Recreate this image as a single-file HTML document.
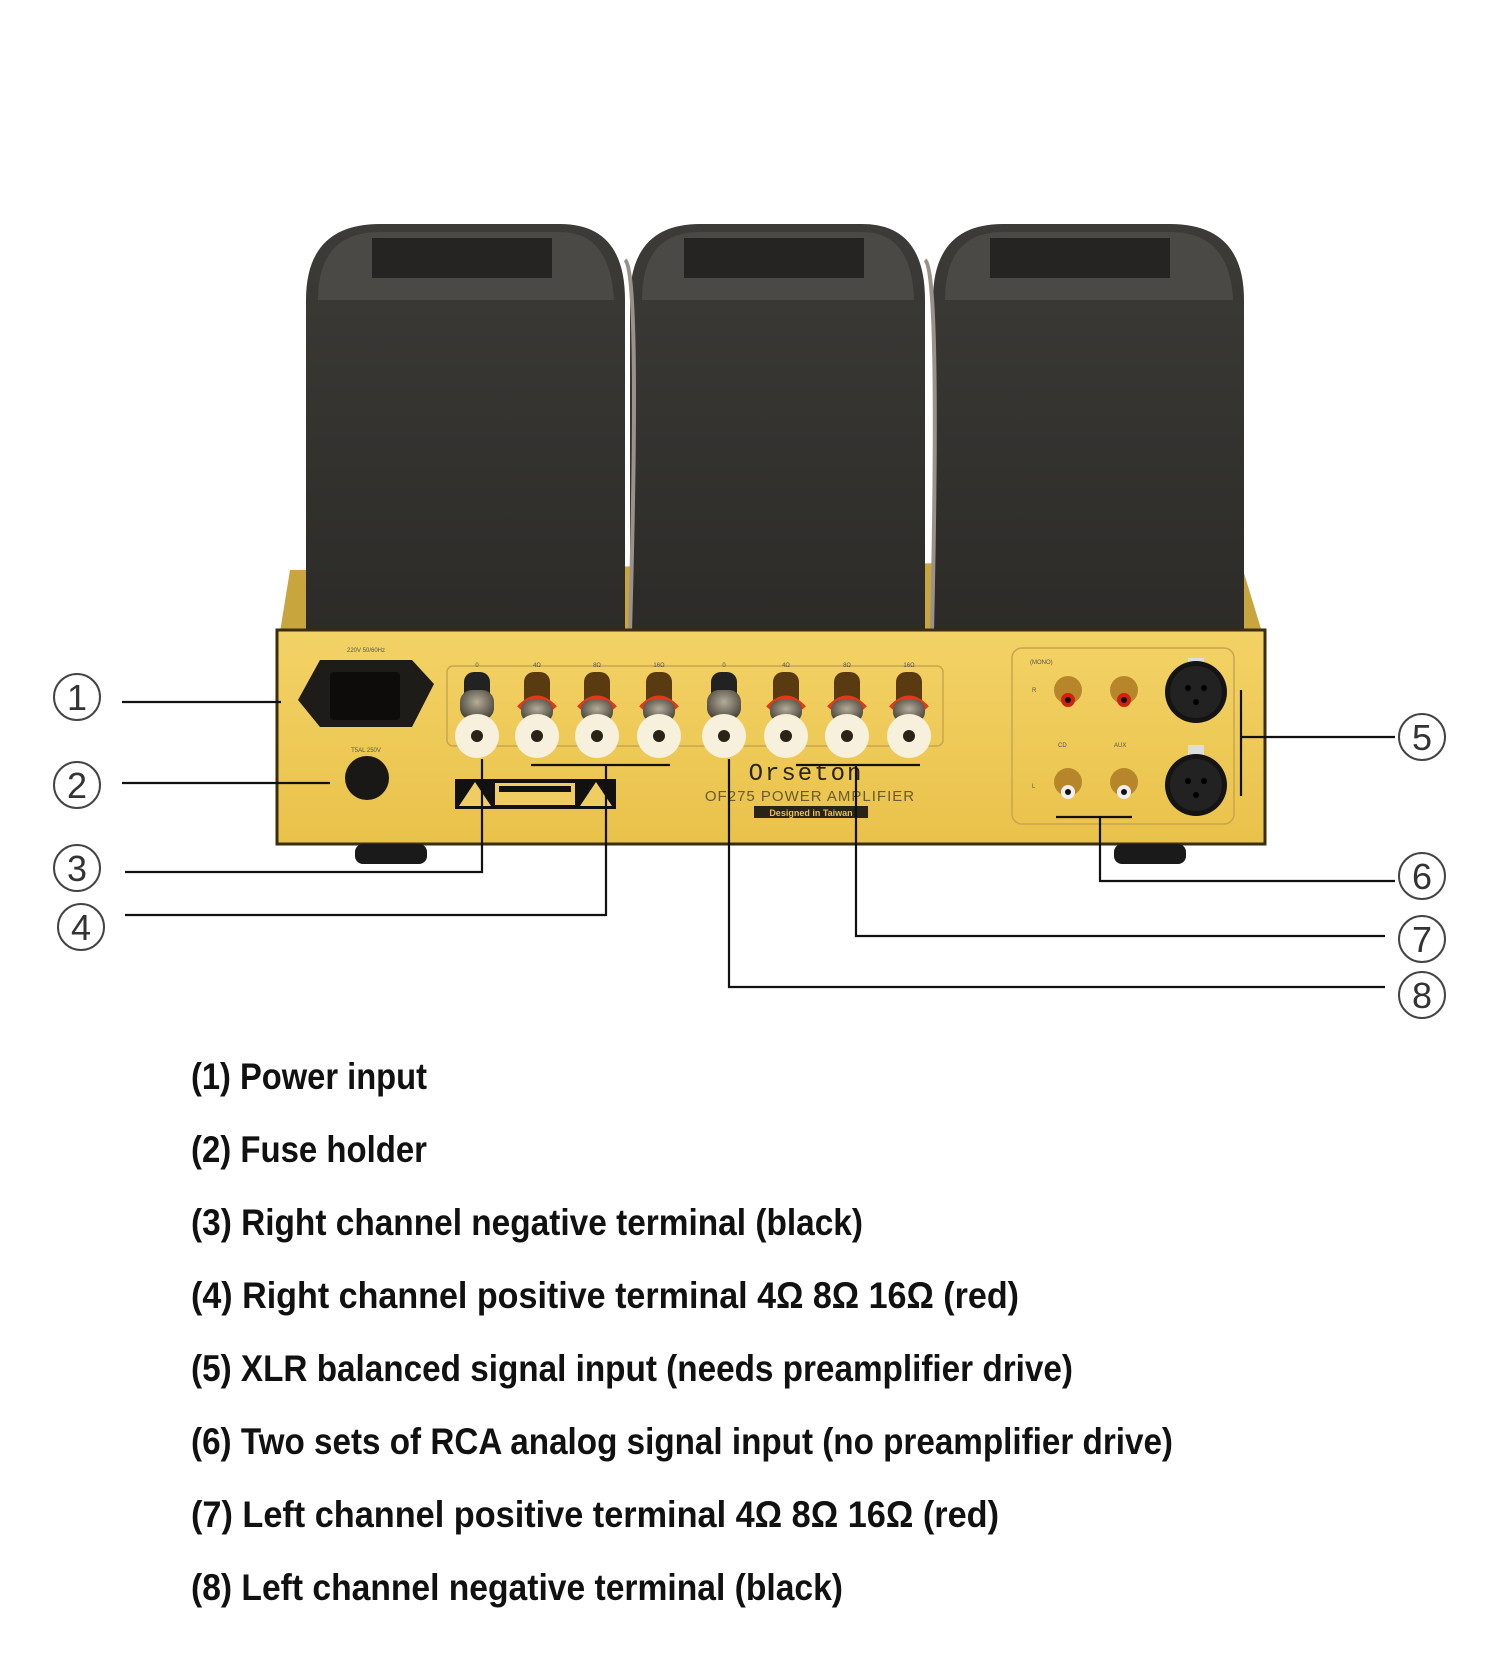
<!DOCTYPE html>
<html><head><meta charset="utf-8"><style>
html,body{margin:0;padding:0;background:#fff;}
svg{display:block;}
</style></head><body>
<svg width="1500" height="1662" viewBox="0 0 1500 1662" xmlns="http://www.w3.org/2000/svg">
<defs>
<linearGradient id="gold" x1="0" y1="0" x2="0" y2="1">
<stop offset="0" stop-color="#f3d266"/><stop offset="1" stop-color="#e9c24a"/>
</linearGradient>
<linearGradient id="tf" x1="0" y1="0" x2="0" y2="1">
<stop offset="0" stop-color="#3c3b38"/><stop offset="1" stop-color="#2c2b28"/>
</linearGradient>
<radialGradient id="post" cx="0.5" cy="0.4" r="0.6">
<stop offset="0" stop-color="#b5ad9a"/><stop offset="1" stop-color="#4a463c"/>
</radialGradient>
</defs>
<rect width="1500" height="1662" fill="#fff"/>

<!-- chassis top visible -->
<polygon points="290,570 1240,560 1262,632 280,632" fill="#c9a53e"/>
<!-- transformers -->
<g>
<path d="M306,632 V300 Q306,224 380,224 H560 Q625,224 625,300 V632 Z" fill="url(#tf)"/>
<path d="M630,632 V300 Q630,224 700,224 H862 Q925,224 925,300 V632 Z" fill="url(#tf)"/>
<path d="M933,632 V300 Q933,224 1003,224 H1170 Q1244,224 1244,300 V632 Z" fill="url(#tf)"/>
<path d="M318,300 Q318,232 380,232 H560 Q610,232 614,300 Z" fill="#4a4946"/>
<path d="M642,300 Q642,232 700,232 H862 Q912,232 914,300 Z" fill="#4a4946"/>
<path d="M945,300 Q945,232 1003,232 H1170 Q1230,232 1233,300 Z" fill="#4a4946"/>
<rect x="372" y="238" width="180" height="40" fill="#252422"/>
<rect x="684" y="238" width="180" height="40" fill="#252422"/>
<rect x="990" y="238" width="180" height="40" fill="#252422"/>
<path d="M625,260 Q640,270 630,632" stroke="#9a928a" stroke-width="4" fill="none"/>
<path d="M925,260 Q940,270 932,632" stroke="#9a928a" stroke-width="4" fill="none"/>
</g>
<!-- chassis front -->
<rect x="277" y="630" width="988" height="214" fill="url(#gold)" stroke="#3a2e10" stroke-width="3"/>
<!-- feet -->
<rect x="355" y="844" width="72" height="20" rx="8" fill="#1a1a1a"/>
<rect x="1114" y="844" width="72" height="20" rx="8" fill="#1a1a1a"/>

<!-- IEC inlet -->
<text x="366" y="652" font-family="Liberation Sans" font-size="6" fill="#555" text-anchor="middle">220V 50/60Hz</text>
<path d="M320,660 H412 L434,684 L412,727 H320 L298,700 Z" fill="#1e1c18"/>
<rect x="330" y="672" width="70" height="48" rx="4" fill="#0d0c0a"/>
<text x="366" y="752" font-family="Liberation Sans" font-size="6" fill="#555" text-anchor="middle">T5AL 250V</text>
<circle cx="367" cy="778" r="22" fill="#1a1816"/>
<!-- terminal box -->
<rect x="447" y="666" width="496" height="80" rx="6" fill="none" stroke="#c8a650" stroke-width="1.5"/>
<g font-family="Liberation Sans" font-size="6" fill="#555" text-anchor="middle">
<text x="477" y="667">0</text><text x="537" y="667">4Ω</text><text x="597" y="667">8Ω</text><text x="659" y="667">16Ω</text>
<text x="724" y="667">0</text><text x="786" y="667">4Ω</text><text x="847" y="667">8Ω</text><text x="909" y="667">16Ω</text>
</g>
<g>
<g transform="translate(477,0)"><rect x="-13" y="672" width="26" height="40" rx="10" fill="#222"/><rect x="-17" y="690" width="34" height="30" rx="12" fill="url(#post)"/><circle cx="0" cy="736" r="22" fill="#f7f0dc"/><circle cx="0" cy="736" r="6" fill="#2a2418"/></g>
<g transform="translate(537,0)"><rect x="-13" y="672" width="26" height="40" rx="10" fill="#5a3a10"/><path d="M-18,708 Q0,688 18,708" stroke="#e03a1a" stroke-width="5" fill="none"/><rect x="-16" y="700" width="32" height="22" rx="10" fill="url(#post)"/><circle cx="0" cy="736" r="22" fill="#f7f0dc"/><circle cx="0" cy="736" r="6" fill="#2a2418"/></g>
<g transform="translate(597,0)"><rect x="-13" y="672" width="26" height="40" rx="10" fill="#5a3a10"/><path d="M-18,708 Q0,688 18,708" stroke="#e03a1a" stroke-width="5" fill="none"/><rect x="-16" y="700" width="32" height="22" rx="10" fill="url(#post)"/><circle cx="0" cy="736" r="22" fill="#f7f0dc"/><circle cx="0" cy="736" r="6" fill="#2a2418"/></g>
<g transform="translate(659,0)"><rect x="-13" y="672" width="26" height="40" rx="10" fill="#5a3a10"/><path d="M-18,708 Q0,688 18,708" stroke="#e03a1a" stroke-width="5" fill="none"/><rect x="-16" y="700" width="32" height="22" rx="10" fill="url(#post)"/><circle cx="0" cy="736" r="22" fill="#f7f0dc"/><circle cx="0" cy="736" r="6" fill="#2a2418"/></g>
<g transform="translate(724,0)"><rect x="-13" y="672" width="26" height="40" rx="10" fill="#222"/><rect x="-17" y="690" width="34" height="30" rx="12" fill="url(#post)"/><circle cx="0" cy="736" r="22" fill="#f7f0dc"/><circle cx="0" cy="736" r="6" fill="#2a2418"/></g>
<g transform="translate(786,0)"><rect x="-13" y="672" width="26" height="40" rx="10" fill="#5a3a10"/><path d="M-18,708 Q0,688 18,708" stroke="#e03a1a" stroke-width="5" fill="none"/><rect x="-16" y="700" width="32" height="22" rx="10" fill="url(#post)"/><circle cx="0" cy="736" r="22" fill="#f7f0dc"/><circle cx="0" cy="736" r="6" fill="#2a2418"/></g>
<g transform="translate(847,0)"><rect x="-13" y="672" width="26" height="40" rx="10" fill="#5a3a10"/><path d="M-18,708 Q0,688 18,708" stroke="#e03a1a" stroke-width="5" fill="none"/><rect x="-16" y="700" width="32" height="22" rx="10" fill="url(#post)"/><circle cx="0" cy="736" r="22" fill="#f7f0dc"/><circle cx="0" cy="736" r="6" fill="#2a2418"/></g>
<g transform="translate(909,0)"><rect x="-13" y="672" width="26" height="40" rx="10" fill="#5a3a10"/><path d="M-18,708 Q0,688 18,708" stroke="#e03a1a" stroke-width="5" fill="none"/><rect x="-16" y="700" width="32" height="22" rx="10" fill="url(#post)"/><circle cx="0" cy="736" r="22" fill="#f7f0dc"/><circle cx="0" cy="736" r="6" fill="#2a2418"/></g>
</g>
<!-- warning label -->
<rect x="455" y="779" width="161" height="30" fill="#111"/>
<rect x="495" y="783" width="80" height="22" fill="#f0cd62"/>
<rect x="499" y="786" width="72" height="6" fill="#111"/>
<polygon points="459,806 475,782 491,806" fill="#f0cd62"/>
<polygon points="580,806 596,782 612,806" fill="#f0cd62"/>
<!-- brand -->
<text x="806" y="780" font-family="Liberation Mono" font-size="24" fill="#2a2418" text-anchor="middle" letter-spacing="2">Orseton</text>
<text x="810" y="801" font-family="Liberation Sans" font-size="15" fill="#6a5a30" text-anchor="middle" letter-spacing="1">OF275 POWER AMPLIFIER</text>
<rect x="754" y="806" width="114" height="12" fill="#2a2418"/>
<text x="811" y="816" font-family="Liberation Sans" font-size="9" font-weight="bold" fill="#e8c24a" text-anchor="middle">Designed in Taiwan</text>
<!-- right panel -->
<rect x="1012" y="648" width="222" height="176" rx="10" fill="none" stroke="#c8a650" stroke-width="1.5"/>
<g font-family="Liberation Sans" font-size="6" fill="#555">
<text x="1030" y="664">(MONO)</text><text x="1032" y="692">R</text><text x="1032" y="788">L</text>
<text x="1058" y="747">CD</text><text x="1114" y="747">AUX</text>
</g>
<g>
<circle cx="1068" cy="690" r="14" fill="#b8862a"/><circle cx="1068" cy="700" r="7" fill="#d02010"/><circle cx="1068" cy="700" r="3" fill="#111"/>
<circle cx="1124" cy="690" r="14" fill="#b8862a"/><circle cx="1124" cy="700" r="7" fill="#d02010"/><circle cx="1124" cy="700" r="3" fill="#111"/>
<circle cx="1068" cy="782" r="14" fill="#b8862a"/><circle cx="1068" cy="792" r="7" fill="#eee"/><circle cx="1068" cy="792" r="3" fill="#111"/>
<circle cx="1124" cy="782" r="14" fill="#b8862a"/><circle cx="1124" cy="792" r="7" fill="#eee"/><circle cx="1124" cy="792" r="3" fill="#111"/>
</g>
<g>
<rect x="1188" y="658" width="16" height="14" fill="#ddd"/>
<circle cx="1196" cy="692" r="31" fill="#141414"/><circle cx="1196" cy="692" r="26" fill="#222"/>
<circle cx="1188" cy="688" r="3" fill="#000"/><circle cx="1204" cy="688" r="3" fill="#000"/><circle cx="1196" cy="702" r="3" fill="#000"/>
<rect x="1188" y="745" width="16" height="14" fill="#ddd"/>
<circle cx="1196" cy="785" r="31" fill="#141414"/><circle cx="1196" cy="785" r="26" fill="#222"/>
<circle cx="1188" cy="781" r="3" fill="#000"/><circle cx="1204" cy="781" r="3" fill="#000"/><circle cx="1196" cy="795" r="3" fill="#000"/>
</g>

<!-- callout lines -->
<g stroke="#111" stroke-width="2.2" fill="none">
<path d="M122,702 H281"/>
<path d="M122,783 H330"/>
<path d="M125,872 H482 V759"/>
<path d="M531,765 H670"/><path d="M125,915 H606 V765"/>
<path d="M729,759 V987 H1385"/>
<path d="M796,765 H920"/><path d="M856,765 V936 H1385"/>
<path d="M1056,817 H1132"/><path d="M1100,817 V881 H1395"/>
<path d="M1241,690 V796"/><path d="M1241,737 H1395"/>
</g>
<!-- circled numbers -->
<g font-family="Liberation Sans" font-size="36" fill="#333" text-anchor="middle" stroke="none">
<g fill="none" stroke="#444" stroke-width="2">
<circle cx="77" cy="697" r="23"/><circle cx="77" cy="785" r="23"/><circle cx="77" cy="868" r="23"/><circle cx="81" cy="927" r="23"/>
<circle cx="1422" cy="737" r="23"/><circle cx="1422" cy="876" r="23"/><circle cx="1422" cy="939" r="23"/><circle cx="1422" cy="995" r="23"/>
</g>
<text x="77" y="710">1</text><text x="77" y="798">2</text><text x="77" y="881">3</text><text x="81" y="940">4</text>
<text x="1422" y="750">5</text><text x="1422" y="889">6</text><text x="1422" y="952">7</text><text x="1422" y="1008">8</text>
</g>

<!-- legend -->
<g font-family="Liberation Sans Narrow, Liberation Sans, sans-serif" font-size="37" font-weight="bold" fill="#111">
<text x="191" y="1089" textLength="236" lengthAdjust="spacingAndGlyphs">(1) Power input</text>
<text x="191" y="1162" textLength="236" lengthAdjust="spacingAndGlyphs">(2) Fuse holder</text>
<text x="191" y="1235" textLength="672" lengthAdjust="spacingAndGlyphs">(3) Right channel negative terminal (black)</text>
<text x="191" y="1308" textLength="828" lengthAdjust="spacingAndGlyphs">(4) Right channel positive terminal 4Ω 8Ω 16Ω (red)</text>
<text x="191" y="1381" textLength="882" lengthAdjust="spacingAndGlyphs">(5) XLR balanced signal input (needs preamplifier drive)</text>
<text x="191" y="1454" textLength="982" lengthAdjust="spacingAndGlyphs">(6) Two sets of RCA analog signal input (no preamplifier drive)</text>
<text x="191" y="1527" textLength="808" lengthAdjust="spacingAndGlyphs">(7) Left channel positive terminal 4Ω 8Ω 16Ω (red)</text>
<text x="191" y="1600" textLength="652" lengthAdjust="spacingAndGlyphs">(8) Left channel negative terminal (black)</text>
</g>
</svg>
</body></html>
